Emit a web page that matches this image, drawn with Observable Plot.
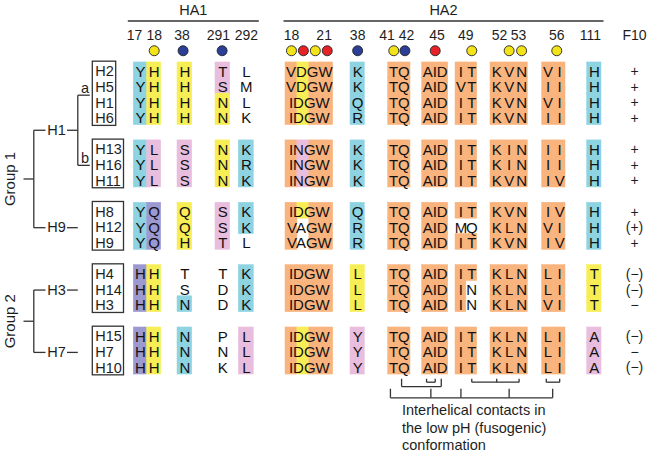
<!DOCTYPE html>
<html><head><meta charset="utf-8">
<script src="https://cdn.jsdelivr.net/npm/d3@7"></script>
<script src="https://cdn.jsdelivr.net/npm/@observablehq/plot@0.6"></script>
<style>html,body{margin:0;padding:0;background:#fff}#chart svg{display:block}</style>
</head><body><div id="chart"></div>
<script>
// ---------------- DATA ----------------
const clusterMembers = [
  ["H2","H5","H1","H6"],
  ["H13","H16","H11"],
  ["H8","H12","H9"],
  ["H4","H14","H3"],
  ["H15","H7","H10"]
];
const groupNames = ["Group 1","Group 2"];
const cladeNames = ["H1","H9","H3","H7"];
const cladeGroup = [0,0,1,1];
const cladeClusters = [[0,1],[2],[3],[4]];
const subcladeNames = ["a","b"];
const regionNames = ["HA1","HA2"];

// residues, one entry per subtype row (H2,H5,H1,H6,H13,H16,H11,H8,H12,H9,H4,H14,H3,H15,H7,H10)
// class codes: o orange, y yellow, c cyan, p pink, v violet, - none
const ha1_17 = ["Y","Y","Y","Y","Y","Y","Y","Y","Y","Y","H","H","H","H","H","H"];
const ha1_17Class = "ccccccccccvvvvvv";
const ha1_18 = ["H","H","H","H","L","L","L","Q","Q","Q","H","H","H","H","H","H"];
const ha1_18Class = "yyyypppvvvyyyyyy";
const ha1_38 = ["H","H","H","H","S","S","S","Q","Q","H","T","S","N","N","N","N"];
const ha1_38Class = "yyyypppyyy--cccc";
const ha1_291 = ["T","S","N","N","N","N","N","S","S","T","T","D","D","P","N","K"];
const ha1_291Class = "ppyyyyyppp------";
const ha1_292 = ["L","M","L","K","K","R","K","K","K","L","K","K","K","L","L","L"];
const ha1_292Class = "----ccccc-cccppp";
const ha2_18 = ["VDGW","VDGW","IDGW","IDGW","INGW","INGW","INGW","IDGW","VAGW","VAGW","IDGW","IDGW","IDGW","IDGW","IDGW","IDGW"];
const ha2_18Class = ["oyoo","oyoo","oyoo","oyoo","opoo","opoo","opoo","oyoo","o-oo","o-oo","oooo","oooo","oooo","oyoo","oyoo","oyoo"];
const ha2_38 = ["K","K","Q","R","K","K","K","Q","R","R","L","L","L","Y","Y","Y"];
const ha2_38Class = "ccccccccccyyyppp";
const ha2_41 = Array(16).fill("TQ");
const ha2_41Class = Array(16).fill("oo");
const ha2_44 = Array(16).fill("AID");
const ha2_44Class = Array(16).fill("ooo");
const ha2_48 = ["IT","VT","IT","IT","IT","IT","IT","IT","MQ","IT","IT","IN","IN","IT","IT","IT"];
const ha2_48Class = ["oo","oo","oo","oo","oo","oo","oo","oo","--","oo","oo","o-","o-","oo","oo","oo"];
const ha2_52 = ["KVN","KVN","KVN","KVN","KIN","KIN","KVN","KVN","KLN","KVN","KLN","KLN","KLN","KLN","KLN","KLN"];
const ha2_52Class = Array(16).fill("ooo");
const ha2_55 = ["VI","II","VI","II","II","II","IV","IV","VI","IV","LI","LI","VI","LI","LI","LI"];
const ha2_55Class = Array(16).fill("oo");
const ha2_111 = ["H","H","H","H","H","H","H","H","H","H","T","T","T","A","A","A"];
const ha2_111Class = "ccccccccccyyyppp";
const f10 = ["+","+","+","+","+","+","+","+","(+)","+","(\u2212)","(\u2212)","\u2212","(\u2212)","\u2212","(\u2212)"];

const columnKeys = ["HA1-17","HA1-18","HA1-38","HA1-291","HA1-292","HA2-18","HA2-38","HA2-41","HA2-44","HA2-48","HA2-52","HA2-55","HA2-111"];
const columnResidues = [ha1_17,ha1_18,ha1_38,ha1_291,ha1_292,ha2_18,ha2_38,ha2_41,ha2_44,ha2_48,ha2_52,ha2_55,ha2_111];
const columnClasses = [ha1_17Class,ha1_18Class,ha1_38Class,ha1_291Class,ha1_292Class,ha2_18Class,ha2_38Class,ha2_41Class,ha2_44Class,ha2_48Class,ha2_52Class,ha2_55Class,ha2_111Class];
const columnRegion = [0,0,0,0,0,1,1,1,1,1,1,1,1];

const positionLabels = ["17","18","38","291","292","18","21","38","41","42","45","49","52","53","56","111"];
const labelColumns = ["HA1-17","HA1-18","HA1-38","HA1-291","HA1-292","HA2-18","HA2-18","HA2-38","HA2-41","HA2-41","HA2-44","HA2-48","HA2-52","HA2-52","HA2-55","HA2-111"];
const siteColumns = ["HA1-18","HA1-38","HA1-291","HA2-18","HA2-18","HA2-18","HA2-18","HA2-38","HA2-41","HA2-41","HA2-44","HA2-48","HA2-52","HA2-52","HA2-55"];
const siteKinds = ["Y","B","B","Y","R","Y","R","B","Y","B","R","Y","Y","Y","Y"];
const f10Title = "F10";
const captionLines = ["Interhelical contacts in","the low pH (fusogenic)","conformation"];

// ---------------- LAYOUT (x in 10px units, y in row units) ----------------
const colLayout = {
  "HA1-17":[13.33,14.67,false], "HA1-18":[14.67,16.07,false], "HA1-38":[17.7,19.17,false],
  "HA1-291":[21.5,22.97,false], "HA1-292":[23.83,25.33,false],
  "HA2-18":[28.5,33.27,true], "HA2-38":[35.0,36.43,false], "HA2-41":[38.77,41.0,true],
  "HA2-44":[42.17,44.77,true], "HA2-48":[45.5,47.67,false], "HA2-52":[49.0,52.73,false],
  "HA2-55":[54.17,56.5,false], "HA2-111":[58.67,60.1,false]
};
const labelIdx = [-0.45,0,-0.2,-0.3,0,0,2.74,0,-0.6,1.15,1.2,0.45,0.23,1.76,0.75,-0.27];
const siteIdx = [0,-0.12,-0.05,0,1,2,3,0,0,1,1,1,1,2,0.75];
const f10X = 63.4;
const yHead = {region:-3.93, rule:-3.26, number:-2.33, circle:-1.35};
const tx = {root0:2.3, root:3.33, stub:4.5, label:4.67, dash0:6.65, dash1:7.73, sub1:8.93, subLabel:8.45, groupLabel:0.95, box:9.23, name:9.47};
const bracketSpecs = [
  {ticks:[["HA2-41",0.7],["HA2-44",1.7]], top:19.69, bottom:20.19},
  {ticks:[["HA2-44",0],["HA2-44",1]], top:19.69, bottom:19.91},
  {ticks:[["HA2-48",1],["HA2-52",0],["HA2-52",1.8]], top:19.69, bottom:19.91},
  {ticks:[["HA2-55",-0.15],["HA2-55",1]], top:19.69, bottom:19.91},
  {ticks:[["HA2-41",-0.3],["HA2-44",0.5],["HA2-48",0],["HA2-52",1],["HA2-55",0.4]], top:20.33, bottom:20.91}
];
const captionX = 40.15, captionY0 = 21.73, captionStep = 1.12;

// ---------------- BUILD ----------------
const rows = clusterMembers.flatMap((m,k) => m.map((name,j) => ({name, cluster:k, j})));
const clusterStart = [];
{ let r = 0; clusterMembers.forEach(m => { clusterStart.push(r); r += m.length + 1; }); }
rows.forEach(d => d.row = clusterStart[d.cluster] + d.j);
const clusterCenter = clusterMembers.map((m,k) => clusterStart[k] + (m.length-1)/2);

const colN = key => columnResidues[columnKeys.indexOf(key)][0].length;
const colX = (key, idx) => { const [L,R] = colLayout[key]; const n = colN(key); return L + (idx+0.5)*(R-L)/n; };

const cells = [], letters = [];
columnKeys.forEach((key,c) => {
  const [L,R,joined] = colLayout[key];
  rows.forEach((d,i) => {
    const res = columnResidues[c][i], cls = columnClasses[c][i];
    const n = res.length, w = (R-L)/n;
    for (let k=0;k<n;k++) {
      if (cls[k] !== "-") cells.push({x1:L+k*w, x2:L+(k+1)*w, y1:d.row-0.6, y2:d.row+0.42, cls:cls[k]});
      if (!joined) letters.push({x:L+(k+0.5)*w, y:d.row, t:res[k]});
    }
    if (joined) letters.push({x:(L+R)/2, y:d.row, t:res});
  });
});
const f10Texts = rows.map((d,i) => ({x:f10X, y:d.row, t:f10[i]}));

const boxes = clusterMembers.map((m,k) => ({x1:tx.box, x2:tx.box + 0.78*(d3.max(m, s=>s.length)+1), y1:clusterStart[k]-0.65, y2:clusterStart[k]+m.length-1+0.47}));

const segs = [], treeLabels = [], subLabels = [], groupLabels = [];
groupNames.forEach((g,gi) => {
  const clades = cladeNames.map((n,i)=>i).filter(i => cladeGroup[i]===gi);
  const ys = clades.map(i => d3.mean(cladeClusters[i], k => clusterCenter[k]));
  const yRoot = (d3.min(ys)+d3.max(ys))/2;
  segs.push({x1:tx.root0, x2:tx.root, y1:yRoot, y2:yRoot});
  segs.push({x1:tx.root, x2:tx.root, y1:d3.min(ys), y2:d3.max(ys)});
  clades.forEach((ci,j) => {
    const y = ys[j];
    segs.push({x1:tx.root, x2:tx.stub, y1:y, y2:y});
    segs.push({x1:tx.dash0, x2:tx.dash1, y1:y, y2:y});
    treeLabels.push({x:tx.label, y, t:cladeNames[ci]});
    if (cladeClusters[ci].length > 1) {
      const cy = cladeClusters[ci].map(k => clusterCenter[k]);
      segs.push({x1:tx.dash1, x2:tx.dash1, y1:d3.min(cy), y2:d3.max(cy)});
      cy.forEach((yy,s) => { segs.push({x1:tx.dash1, x2:tx.sub1, y1:yy, y2:yy}); subLabels.push({x:tx.subLabel, y:yy, t:subcladeNames[s]}); });
    }
  });
  groupLabels.push({x:tx.groupLabel, y:yRoot, t:g});
});

// header
const regionRules = regionNames.map((name,ri) => {
  const cols = columnKeys.filter((k,c) => columnRegion[c]===ri);
  const x1 = colLayout[cols[0]][0] - (ri===0 ? 0.6 : 0.2);
  const x2 = colLayout[cols[cols.length-1]][1] + (ri===0 ? 0.5 : 0.2);
  return {name, x1, x2, y1:yHead.rule, y2:yHead.rule, xm:(x1+x2)/2};
});
const numLabels = positionLabels.map((t,i) => ({t, x:colX(labelColumns[i], labelIdx[i]), y:yHead.number}));
numLabels.push({t:f10Title, x:f10X, y:yHead.number});
const sites = siteColumns.map((c,i) => ({x:colX(c, siteIdx[i]), y:yHead.circle, kind:siteKinds[i]}));

const bracketSegs = [];
bracketSpecs.forEach(b => {
  const xs = b.ticks.map(([c,i]) => colX(c,i));
  xs.forEach(x => bracketSegs.push({x1:x, x2:x, y1:b.top, y2:b.bottom}));
  bracketSegs.push({x1:d3.min(xs), x2:d3.max(xs), y1:b.bottom, y2:b.bottom});
});
const caption = captionLines.map((t,i) => ({t, x:captionX, y:captionY0 + i*captionStep}));

const FONT = "Liberation Sans, Arial, Helvetica, sans-serif";
const INK = "#1e1e1e";

const chart = Plot.plot({
  width: 650, height: 454,
  marginTop: 0, marginBottom: 0, marginLeft: 0, marginRight: 0,
  style: {fontFamily: FONT, background: "#fff"},
  x: {type:"linear", domain:[0,65], range:[0,650], axis:null},
  y: {type:"linear", domain:[0,19], range:[71.3,367.5], axis:null},
  color: {type:"ordinal", domain:["o","y","c","p","v","Y","R","B"],
          range:["#f9b37d","#f7ee55","#8ed3e1","#e8bddd","#9c99d2","#f3e41a","#e52228","#2b3e98"]},
  marks: [
    Plot.rect(cells, {x1:"x1", x2:"x2", y1:"y1", y2:"y2", fill:"cls", stroke:"cls", strokeWidth:0.5}),
    Plot.text(letters, {x:"x", y:"y", text:"t", fontSize:15, fill:"#111"}),
    Plot.text(rows, {x:()=>tx.name, y:"row", text:"name", textAnchor:"start", fontSize:14.5, fill:INK}),
    Plot.rect(boxes, {x1:"x1", x2:"x2", y1:"y1", y2:"y2", fill:"none", stroke:"#333", strokeWidth:1.3}),
    Plot.link(segs, {x1:"x1", x2:"x2", y1:"y1", y2:"y2", stroke:"#333", strokeWidth:1.3}),
    Plot.text(treeLabels, {x:"x", y:"y", text:"t", textAnchor:"start", fontSize:14.5, fill:INK}),
    Plot.text(subLabels, {x:"x", y:"y", text:"t", lineAnchor:"bottom", dy:-2, fontSize:14.5, fill:INK}),
    Plot.text(groupLabels, {x:"x", y:"y", text:"t", rotate:-90, fontSize:15, fill:INK}),
    Plot.link(regionRules, {x1:"x1", x2:"x2", y1:"y1", y2:"y2", stroke:"#333", strokeWidth:1.3}),
    Plot.text(regionRules, {x:"xm", y:()=>yHead.region, text:"name", fontSize:14.5, fill:INK}),
    Plot.text(numLabels, {x:"x", y:"y", text:"t", fontSize:14, fill:INK}),
    Plot.dot(sites, {x:"x", y:"y", r:5, fill:"kind", stroke:"#222", strokeWidth:0.9}),
    Plot.text(f10Texts, {x:"x", y:"y", text:"t", fontSize:14, fill:INK}),
    Plot.link(bracketSegs, {x1:"x1", x2:"x2", y1:"y1", y2:"y2", stroke:"#333", strokeWidth:1.3}),
    Plot.text(caption, {x:"x", y:"y", text:"t", textAnchor:"start", fontSize:14.5, fill:INK})
  ]
});
document.getElementById("chart").appendChild(chart);
</script>
</body></html>
